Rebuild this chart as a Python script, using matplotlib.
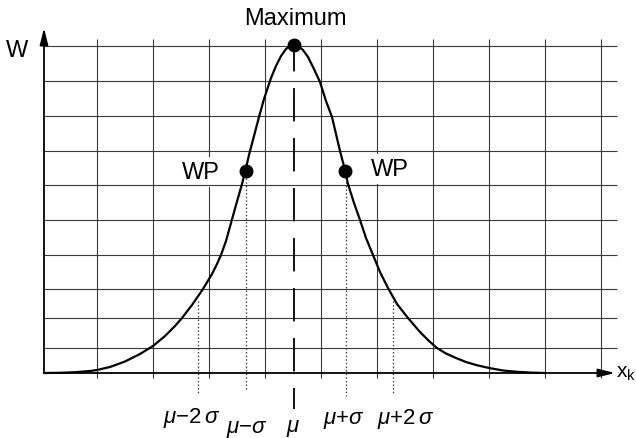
import matplotlib
matplotlib.use("Agg")
import matplotlib.pyplot as plt

plt.rcParams['font.family'] = ['Liberation Sans', 'DejaVu Sans']
plt.rcParams['mathtext.fontset'] = 'custom'
plt.rcParams['mathtext.rm'] = 'Liberation Sans'
plt.rcParams['mathtext.it'] = 'Liberation Sans:italic'
plt.rcParams['lines.scale_dashes'] = False

# Glockenkurve in Zeichnungseinheiten (Rasterweite 56 in x, Maximum = 328 in W)
curve_x = [3, 19, 34, 49, 56, 69, 84, 99, 112, 124, 134, 141, 151, 162, 171, 176,
           180, 185, 190, 195, 201, 205, 208, 213, 218, 223, 230, 235, 240, 245, 249,
           253,
           257, 262, 267, 272, 279, 285, 291, 295, 299, 304, 307, 313, 319, 325, 332,
           339, 347, 356, 367, 379, 388, 396, 405, 415, 425, 435, 448, 462, 476, 490, 504]
curve_w = [0, 0.2, 0.8, 2, 3, 6, 11.5, 19, 27, 37, 47, 55, 68, 84, 99, 109,
           118, 132, 150, 168, 189, 205, 218, 237, 256, 274, 295, 307, 317, 324, 327,
           328,
           327, 323, 316, 306, 291, 272, 256, 239, 222, 203, 189, 170, 153, 135, 118,
           101, 85, 69, 55, 41, 32, 25, 19.5, 15, 11, 8, 5, 2.5, 1.2, 0.4, 0]

mu = 253
w_max = 328
wp_x = [205, 304]
wp_w = [202, 202]

# gepunktete Linien bei mu-2s, mu-s, mu+s, mu+2s
sigma_x = [157, 205, 305, 352]
sigma_top = [72, 202, 202, 72]
sigma_bottom = [-20, -18, -23, -20]

labels = [r'$\mu{-}2\,\sigma$', r'$\mu{-}\sigma$', r'$\mu$', r'$\mu{+}\sigma$', r'$\mu{+}2\,\sigma$']
label_x = [151, 206, 252, 303, 365]
label_w = [-49, -59, -58, -50, -50]

grid_x = [56, 112, 168, 224, 280, 336, 392, 448, 504, 560]
grid_w = [327, 292, 257, 222, 188, 153, 118, 84, 55, 25]

fig = plt.figure(figsize=(6.36, 4.39), dpi=100)
ax = fig.add_axes([0, 0, 1, 1])
ax.set_xlim(-41, 595)
ax.set_ylim(-65, 374)
ax.axis('off')

# Raster
ax.vlines(grid_x, -5, 334, color='#3a3a3a', lw=0.8, zorder=1)
ax.hlines(grid_w, 3, 576, color='#3a3a3a', lw=0.8, zorder=2.5)

# Achsen mit Pfeilen
arrow = dict(arrowstyle='-|>,head_length=1.0,head_width=0.25', lw=1.3, color='k',
             shrinkA=0, shrinkB=0)
ax.annotate('', xy=(574, 0), xytext=(3, 0), arrowprops=arrow, zorder=3)
ax.annotate('', xy=(3, 345), xytext=(3, 0), arrowprops=arrow, zorder=3)

# Kurve
ax.plot(curve_x, curve_w, color='k', lw=1.6, zorder=3, solid_joinstyle='round')

# Mittelwert gestrichelt, sigma-Linien gepunktet
ax.plot([mu, mu], [w_max, -36], color='k', lw=1.3, linestyle=(5, (24, 12)), zorder=2.8)
for sx, top, bot in zip(sigma_x, sigma_top, sigma_bottom):
    ax.plot([sx, sx], [top, bot], color='#333333', lw=0.9, linestyle=(0, (1, 1.6)), zorder=2.8)

ax.plot([mu], [w_max], 'o', color='k', ms=9, zorder=4)
ax.plot(wp_x, wp_w, 'o', color='k', ms=9, zorder=4)

ax.text(254, 349, 'Maximum', fontsize=17, ha='center', va='baseline')
ax.text(-24, 317, 'W', fontsize=17, ha='center', va='baseline')
box = dict(fc='white', ec='none', pad=3)
ax.text(179, 195, 'WP', fontsize=17, ha='right', va='baseline', bbox=box, zorder=2)
ax.text(330, 198, 'WP', fontsize=17, ha='left', va='baseline', bbox=box, zorder=2)

for lab, lx, lw_ in zip(labels, label_x, label_w):
    ax.text(lx, lw_, lab, fontsize=16, ha='center', va='baseline')

ax.text(575, -4, r'$\mathrm{x}_{\mathrm{k}}$', fontsize=15, ha='left', va='baseline')

fig.savefig('out.png', dpi=100)
